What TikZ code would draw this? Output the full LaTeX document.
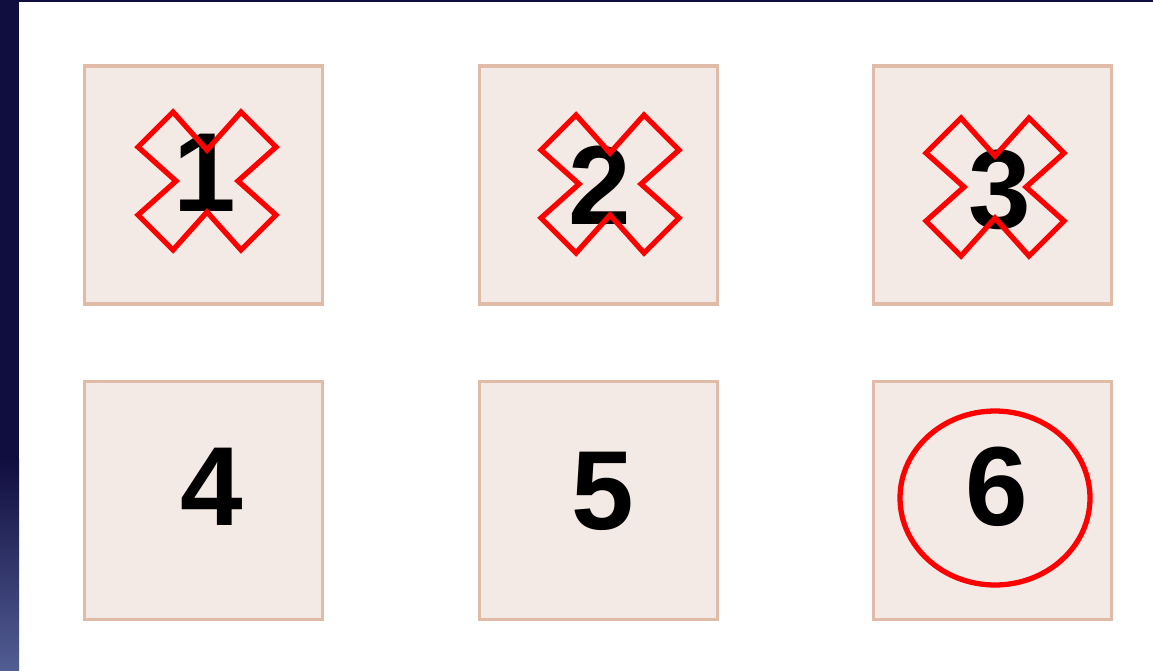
\documentclass[tikz,border=0pt]{standalone}
\usepackage{fontspec}
\setmainfont{Liberation Sans}
\definecolor{navy}{HTML}{100D3F}
\definecolor{navylight}{HTML}{525D93}
\definecolor{boxfill}{HTML}{F4EAE5}
\definecolor{boxline}{HTML}{E0BCA8}
\definecolor{markred}{HTML}{FF0000}
\begin{document}
\begin{tikzpicture}[
    x=0.02cm, y=-0.02cm,
    numbox/.style={
        rectangle,
        draw=boxline,
        fill=boxfill,
        line width=1.8pt,
        minimum size=4.76cm,
        inner sep=0pt
    },
    digit/.style={
        font=\bfseries\fontsize{64}{64}\selectfont,
        inner sep=0pt
    },
    crossline/.style={
        draw=markred,
        line width=3pt,
        line join=miter
    },
    ringline/.style={
        draw=markred,
        line width=3pt
    },
    xmark/.pic={
        \draw[crossline] (0,31) -- (34,69) -- (69,34) -- (31,0) -- (69,-34) -- (34,-69)
            -- (0,-31) -- (-34,-69) -- (-69,-34) -- (-31,0) -- (-69,34) -- (-34,69) -- cycle;
    }
]

    % Rahmen
    \useasboundingbox (0,0) rectangle (1153,670);
    \fill[white] (0,0) rectangle (1153,670);
    \fill[navy] (0,0) rectangle (19,460);
    \shade[top color=navy, bottom color=navylight] (0,459) rectangle (19,670);
    \fill[navy] (0,0) rectangle (1153,2);

    % Obere Reihe
    \node[numbox] (b1) at (203.5,185) {};
    \node[numbox] (b2) at (598.5,185) {};
    \node[numbox] (b3) at (992.5,185) {};

    % Untere Reihe
    \node[numbox] (b4) at (203.5,500.5) {};
    \node[numbox] (b5) at (598.5,500.5) {};
    \node[numbox] (b6) at (992.5,500.5) {};

    % Ziffern
    \node[digit] (n1) at (205,173) {1};
    \node[digit] (n2) at (600,185) {2};
    \node[digit] (n3) at (1000,190) {3};
    \node[digit] (n4) at (212,487) {4};
    \node[digit] (n5) at (603,491) {5};
    \node[digit] (n6) at (997,487) {6};

    % Markierungen
    \pic at (207,181) {xmark};
    \pic at (610,184) {xmark};
    \pic at (995,187) {xmark};
    \draw[ringline] (995,498) ellipse [x radius=1.9cm, y radius=1.74cm];

\end{tikzpicture}
\end{document}
